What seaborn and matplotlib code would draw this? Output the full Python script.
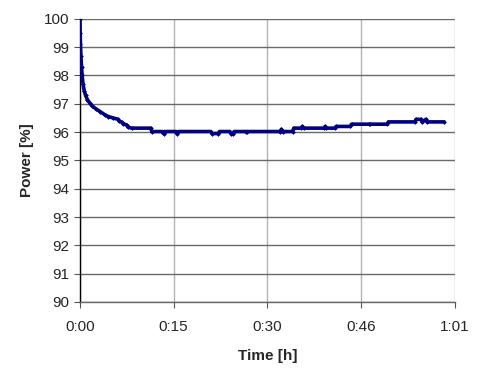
import pandas as pd
import matplotlib
matplotlib.use('Agg')
import matplotlib.pyplot as plt
import seaborn as sns

# Values (time in minutes, power in %)
time_min = [0.0, 0.03, 0.08, 0.15, 0.25, 0.35, 0.5, 0.7, 0.9, 1.2, 1.6, 2.0,
            2.6, 3.3, 4.0, 4.6, 5.4, 6.2, 6.4, 6.8, 7.0, 7.6, 7.8, 8.4, 11.5,
            11.7, 13.4, 13.6, 13.8, 15.6, 15.8, 16.0, 21.3, 21.5, 22.5, 22.7,
            24.4, 24.6, 24.9, 25.1, 27.0, 27.2, 32.6, 32.8, 33.0, 34.6, 34.8,
            36.0, 36.2, 36.4, 39.7, 39.9, 40.1, 41.5, 41.7, 44.0, 44.2, 47.0,
            47.2, 50.0, 50.2, 54.5, 54.7, 55.5, 55.7, 56.3, 56.5, 59.3]
power = [100.0, 99.5, 99.1, 98.7, 98.3, 98.0, 97.7, 97.45, 97.3, 97.15, 97.02,
         96.92, 96.82, 96.72, 96.62, 96.55, 96.5, 96.45, 96.38, 96.35, 96.3,
         96.25, 96.18, 96.14, 96.14, 96.02, 96.02, 95.95, 96.02, 96.02, 95.95,
         96.02, 96.02, 95.95, 95.95, 96.02, 96.02, 95.95, 95.95, 96.02, 96.02,
         96.02, 96.02, 96.1, 96.02, 96.02, 96.14, 96.14, 96.2, 96.14, 96.14,
         96.2, 96.14, 96.14, 96.2, 96.2, 96.28, 96.28, 96.28, 96.28, 96.36,
         96.36, 96.45, 96.45, 96.36, 96.45, 96.36, 96.36]

x_ticks = [0, 15.25, 30.5, 45.75, 61]
x_labels = ['0:00', '0:15', '0:30', '0:46', '1:01']
y_ticks = list(range(90, 101))

df = pd.DataFrame({'Time': time_min, 'Power': power})

sns.set_style('white')
plt.rcParams['font.family'] = ['Liberation Sans', 'DejaVu Sans']

fig = plt.figure(figsize=(4.95, 3.77), dpi=100)
ax = fig.add_axes([0.1616, 0.199, 0.757, 0.751])

sns.lineplot(data=df, x='Time', y='Power', ax=ax, sort=False, estimator=None,
             color='#000080', linewidth=2.6, marker='D', markersize=2.4,
             markeredgewidth=0, zorder=3)

ax.set_xlim(0, 61)
ax.set_ylim(90, 100)
ax.set_xticks(x_ticks)
ax.set_xticklabels(x_labels)
ax.set_yticks(y_ticks)

ax.yaxis.grid(True, color='#6a6a6a', linewidth=1)
ax.xaxis.grid(True, color='#b4b4b4', linewidth=1)
ax.set_axisbelow(True)

for side in ['top', 'right']:
    ax.spines[side].set_visible(False)
ax.spines['left'].set_color('black')
ax.spines['left'].set_linewidth(1)
ax.spines['bottom'].set_color('#666666')
ax.spines['bottom'].set_linewidth(1)

ax.tick_params(axis='both', direction='out', length=4, width=0.8,
               color='#555555', labelsize=11, pad=4, bottom=True, left=True)
ax.tick_params(axis='x', pad=9)

ax.set_xlabel('Time [h]', fontsize=11, fontweight='bold', labelpad=11)
ax.set_ylabel('Power [%]', fontsize=11, fontweight='bold', labelpad=7)

fig.savefig('out.png', dpi=100)
